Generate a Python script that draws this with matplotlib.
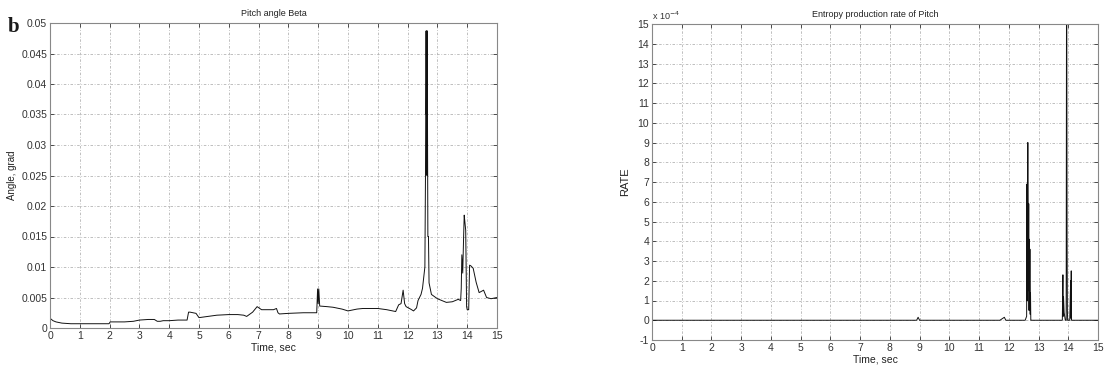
import matplotlib
matplotlib.use('Agg')
import matplotlib.pyplot as plt

plt.rcParams['font.family'] = ['Liberation Sans', 'DejaVu Sans']
plt.rcParams['axes.unicode_minus'] = False

# Pitch angle Beta
beta_t = [0, 0.1, 0.2, 0.4, 0.7, 1.0, 1.5, 1.98, 2.02, 2.5, 2.8, 3.0, 3.3, 3.5, 3.6, 3.7, 3.8, 4.0,
          4.3, 4.6, 4.65, 4.7, 4.9, 5.0, 5.3, 5.6, 6.0, 6.3, 6.5, 6.6, 6.8, 6.95, 7.1, 7.5, 7.6,
          7.65, 7.7, 8.0, 8.5, 8.95, 8.98, 9.0, 9.02, 9.05, 9.3, 9.5, 9.8, 10.0, 10.3, 10.5, 11.0,
          11.3, 11.6, 11.7, 11.78, 11.85, 11.9, 11.95, 12.1, 12.2, 12.3, 12.35, 12.45, 12.5, 12.58,
          12.6, 12.62, 12.63, 12.64, 12.65, 12.66, 12.67, 12.68, 12.7, 12.72, 12.8, 13.0, 13.3,
          13.5, 13.7, 13.78, 13.8, 13.82, 13.85, 13.88, 13.9, 13.92, 13.95, 13.98, 14.0, 14.05,
          14.08, 14.12, 14.2, 14.3, 14.4, 14.55, 14.65, 14.8, 15.0]
beta_v = [0.0016, 0.0012, 0.001, 0.0008, 0.0007, 0.0007, 0.0007, 0.0007, 0.001, 0.001, 0.0011,
          0.0013, 0.0014, 0.0014, 0.0011, 0.0011, 0.0012, 0.0012, 0.0013, 0.0013, 0.0026, 0.0026,
          0.0024, 0.0017, 0.0019, 0.0021, 0.0022, 0.0022, 0.0021, 0.0019, 0.0026, 0.0035, 0.003,
          0.003, 0.0032, 0.0025, 0.0023, 0.0024, 0.0025, 0.0025, 0.0064, 0.004, 0.0064, 0.0036,
          0.0035, 0.0034, 0.0031, 0.0028, 0.0031, 0.0032, 0.0032, 0.003, 0.0027, 0.0038, 0.004,
          0.0062, 0.004, 0.0035, 0.0031, 0.0028, 0.0033, 0.0045, 0.0055, 0.0065, 0.01, 0.025,
          0.0487, 0.035, 0.0487, 0.025, 0.0487, 0.03, 0.015, 0.015, 0.0074, 0.0055, 0.0048, 0.0042,
          0.0043, 0.0047, 0.0045, 0.0065, 0.012, 0.009, 0.015, 0.0185, 0.0175, 0.016, 0.0035,
          0.003, 0.003, 0.0103, 0.0102, 0.0098, 0.0075, 0.0058, 0.0062, 0.005, 0.0048, 0.005]

# Entropy production rate of Pitch
rate_t = [0, 8.9, 8.95, 9.0, 11.7, 11.75, 11.85, 11.9, 12.55, 12.6, 12.61, 12.62, 12.63, 12.64,
          12.65, 12.66, 12.67, 12.68, 12.69, 12.7, 12.71, 12.72, 12.73, 12.74, 12.76, 13.8, 13.82,
          13.83, 13.84, 13.86, 13.88, 13.9, 13.93, 13.94, 13.95, 13.96, 13.97, 13.98, 14.0, 14.05,
          14.08, 14.09, 14.1, 14.11, 14.13, 14.15, 15.0]
rate_v = [0, 0, 0.15, 0, 0, 0.05, 0.15, 0, 0, 0.2, 6.9, 1.0, 7.0, 9.0, 6.8, 1.5, 5.9, 0.5, 4.1,
          0.8, 3.6, 0.3, 1.4, 0, 0, 0, 2.3, 0.2, 1.2, 0.4, 0.2, 0, 0, 15.0, 15.0, 4.2, 0.5, 0,
          0, 0, 2.0, 0.1, 2.5, 0, 0, 0, 0]

W, H = 1112, 373
fig = plt.figure(figsize=(W / 100, H / 100), dpi=100)

grid_kw = dict(color='#b4b4b4', linestyle=(0, (3, 2, 1, 2)), linewidth=0.6)

# left: Pitch angle Beta
ax1 = fig.add_axes([50 / W, 1 - 328 / H, 447 / W, 305 / H])
ax1.plot(beta_t, beta_v, color='#111111', linewidth=0.7)
ax1.set_xlim(0, 15)
ax1.set_ylim(0, 0.05)
ax1.set_xticks(range(0, 16))
ax1.set_yticks([i * 0.005 for i in range(11)])
ax1.set_yticklabels(['0', '0.005', '0.01', '0.015', '0.02', '0.025', '0.03', '0.035', '0.04',
                     '0.045', '0.05'])
ax1.set_title('Pitch angle Beta', fontsize=6.5, pad=5, color='#222222')
ax1.set_xlabel('Time, sec', fontsize=7.5, labelpad=1, color='#222222')
ax1.set_ylabel('Angle, grad', fontsize=7, labelpad=3, color='#222222')
ax1.grid(True, **grid_kw)
fig.text(8 / W, 1 - 32 / H, 'b', fontsize=15, fontweight='bold', family='Liberation Serif',
         color='#1a1a1a')

# right: Entropy production rate
ax2 = fig.add_axes([652 / W, 1 - 340 / H, 446 / W, 316 / H])
ax2.plot(rate_t, rate_v, color='#111111', linewidth=0.7)
ax2.set_xlim(0, 15)
ax2.set_ylim(-1, 15)
ax2.set_xticks(range(0, 16))
ax2.set_yticks(range(-1, 16))
ax2.set_title('Entropy production rate of Pitch', fontsize=6.5, pad=5, color='#222222')
ax2.set_xlabel('Time, sec', fontsize=7.5, labelpad=1, color='#222222')
ax2.set_ylabel('RATE', fontsize=8, labelpad=5, color='#222222')
ax2.grid(True, **grid_kw)
ax2.text(0.0, 1.005, r'x 10$^{-4}$', transform=ax2.transAxes, fontsize=6.5, va='bottom',
         ha='left', color='#333333')

for ax in (ax1, ax2):
    ax.tick_params(direction='in', length=3, width=0.6, labelsize=7.5, colors='#333333', pad=2,
                   top=True, right=True)
    for s in ax.spines.values():
        s.set_color('#888888')
        s.set_linewidth(0.8)

plt.savefig('out.png', dpi=100)
